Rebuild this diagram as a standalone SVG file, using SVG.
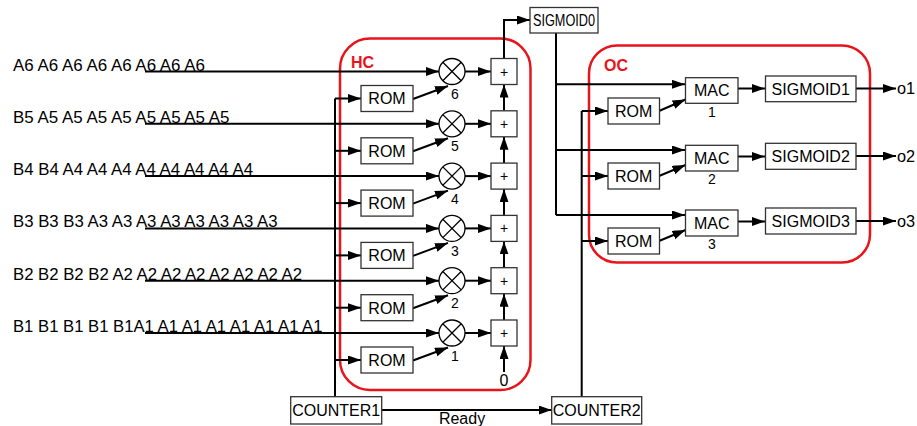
<svg xmlns="http://www.w3.org/2000/svg" width="917" height="426" viewBox="0 0 917 426">
<defs>
<style>
text{font-family:"Liberation Sans",Arial,sans-serif;fill:#000}
.in{font-size:16.3px}
.lbl{font-size:16px;text-anchor:middle}
.num{font-size:14px;text-anchor:middle}
.box{fill:#fff;stroke:#333;stroke-width:1.3}
.w{fill:none;stroke:#000;stroke-width:2}
.wa{fill:none;stroke:#000;stroke-width:2;marker-end:url(#a)}
.grp{fill:none;stroke:#e8141b;stroke-width:2.5}
.gl{font-size:16px;font-weight:bold;fill:#e8141b}
.mul{fill:#fff;stroke:#000;stroke-width:1.3}
.x{stroke:#000;stroke-width:1.3}
</style>
<marker id="a" markerUnits="userSpaceOnUse" markerWidth="14" markerHeight="10" refX="13" refY="4.5" orient="auto"><path d="M0,0 L13,4.5 L0,9 z" fill="#000"/></marker>
</defs>

<rect id="HC" class="grp" x="340" y="38.5" width="190.5" height="351.5" rx="30"/>
<text class="gl" x="351" y="68">HC</text>
<rect id="OC" class="grp" x="589" y="45.5" width="281" height="217" rx="28"/>
<text class="gl" x="604" y="71">OC</text>

<g id="inputs">
<text class="in" x="13" y="70.5" textLength="192" lengthAdjust="spacingAndGlyphs">A6 A6 A6 A6 A6 A6 A6 A6</text>
<text class="in" x="13" y="122.8" textLength="216.5" lengthAdjust="spacingAndGlyphs">B5 A5 A5 A5 A5 A5 A5 A5 A5</text>
<text class="in" x="13" y="175.1" textLength="240" lengthAdjust="spacingAndGlyphs">B4 B4 A4 A4 A4 A4 A4 A4 A4 A4</text>
<text class="in" x="13" y="227.4" textLength="264.5" lengthAdjust="spacingAndGlyphs">B3 B3 B3 A3 A3 A3 A3 A3 A3 A3 A3</text>
<text class="in" x="13" y="279.7" textLength="289" lengthAdjust="spacingAndGlyphs">B2 B2 B2 B2 A2 A2 A2 A2 A2 A2 A2 A2</text>
<text class="in" x="13" y="332" textLength="309.5" lengthAdjust="spacingAndGlyphs">B1 B1 B1 B1 B1A1 A1 A1 A1 A1 A1 A1 A1</text>
</g>

<g id="connectors">
<path class="wa" d="M145,71.5H439"/>
<path class="wa" d="M145,123.8H439"/>
<path class="wa" d="M145,176.1H439"/>
<path class="wa" d="M145,228.4H439"/>
<path class="wa" d="M145,280.7H439"/>
<path class="wa" d="M145,333H439"/>
<path class="w" d="M335,98.5V397"/>
<path class="wa" d="M335,98.5H361"/>
<path class="wa" d="M335,150.8H361"/>
<path class="wa" d="M335,203.1H361"/>
<path class="wa" d="M335,255.4H361"/>
<path class="wa" d="M335,307.7H361"/>
<path class="wa" d="M335,360H361"/>
<path class="wa" d="M413,99L448,86"/>
<path class="wa" d="M413,151.3L448,138.3"/>
<path class="wa" d="M413,203.6L448,190.6"/>
<path class="wa" d="M413,255.9L448,242.9"/>
<path class="wa" d="M413,308.2L448,295.2"/>
<path class="wa" d="M413,360.5L448,347.5"/>
<path class="wa" d="M465,71.5H491"/>
<path class="wa" d="M465,123.8H491"/>
<path class="wa" d="M465,176.1H491"/>
<path class="wa" d="M465,228.4H491"/>
<path class="wa" d="M465,280.7H491"/>
<path class="wa" d="M465,333H491"/>
<path class="wa" d="M504,110.8V84.5"/>
<path class="wa" d="M504,163.1V136.8"/>
<path class="wa" d="M504,215.4V189.1"/>
<path class="wa" d="M504,267.7V241.4"/>
<path class="wa" d="M504,320V293.7"/>
<path class="wa" d="M504,372V346"/>
<path class="wa" d="M504,58.5V20H530"/>
<path class="w" d="M556,33V215"/>
<path class="wa" d="M556,84.3H685"/>
<path class="wa" d="M556,150H685"/>
<path class="wa" d="M556,215H685"/>
<path class="w" d="M581.7,111V397"/>
<path class="wa" d="M581.7,111H608"/>
<path class="wa" d="M581.7,176H608"/>
<path class="wa" d="M581.7,241H608"/>
<path class="wa" d="M659,111L685.5,99.5"/>
<path class="wa" d="M659,176L685.5,165"/>
<path class="wa" d="M659,241L685.5,230"/>
<path class="wa" d="M738,88.5H765"/>
<path class="wa" d="M738,156.5H765"/>
<path class="wa" d="M738,221.5H765"/>
<path class="wa" d="M856,88.5H896"/>
<path class="wa" d="M856,156H896"/>
<path class="wa" d="M856,221H896"/>
<path class="wa" d="M381.7,410H551.7"/>
</g>

<g id="mul6"><circle class="mul" cx="452" cy="71.5" r="13"/><path class="x" d="M442.8,62.3L461.2,80.7M442.8,80.7L461.2,62.3"/><text class="num" x="455" y="99">6</text></g>
<g id="mul5"><circle class="mul" cx="452" cy="123.8" r="13"/><path class="x" d="M442.8,114.6L461.2,133M442.8,133L461.2,114.6"/><text class="num" x="455" y="151.3">5</text></g>
<g id="mul4"><circle class="mul" cx="452" cy="176.1" r="13"/><path class="x" d="M442.8,166.9L461.2,185.3M442.8,185.3L461.2,166.9"/><text class="num" x="455" y="203.6">4</text></g>
<g id="mul3"><circle class="mul" cx="452" cy="228.4" r="13"/><path class="x" d="M442.8,219.2L461.2,237.6M442.8,237.6L461.2,219.2"/><text class="num" x="455" y="255.9">3</text></g>
<g id="mul2"><circle class="mul" cx="452" cy="280.7" r="13"/><path class="x" d="M442.8,271.5L461.2,289.9M442.8,289.9L461.2,271.5"/><text class="num" x="455" y="308.2">2</text></g>
<g id="mul1"><circle class="mul" cx="452" cy="333" r="13"/><path class="x" d="M442.8,323.8L461.2,342.2M442.8,342.2L461.2,323.8"/><text class="num" x="455" y="360.5">1</text></g>

<g id="add6"><rect class="box" x="491" y="58.5" width="26" height="26"/><text class="num" x="504" y="76.5">+</text></g>
<g id="add5"><rect class="box" x="491" y="110.8" width="26" height="26"/><text class="num" x="504" y="128.8">+</text></g>
<g id="add4"><rect class="box" x="491" y="163.1" width="26" height="26"/><text class="num" x="504" y="181.1">+</text></g>
<g id="add3"><rect class="box" x="491" y="215.4" width="26" height="26"/><text class="num" x="504" y="233.4">+</text></g>
<g id="add2"><rect class="box" x="491" y="267.7" width="26" height="26"/><text class="num" x="504" y="285.7">+</text></g>
<g id="add1"><rect class="box" x="491" y="320" width="26" height="26"/><text class="num" x="504" y="338">+</text></g>
<g id="zero"><text class="lbl" x="504" y="386">0</text></g>

<g id="romh6"><rect class="box" x="361" y="85.5" width="52" height="26"/><text class="lbl" x="387" y="104.3">ROM</text></g>
<g id="romh5"><rect class="box" x="361" y="137.8" width="52" height="26"/><text class="lbl" x="387" y="156.6">ROM</text></g>
<g id="romh4"><rect class="box" x="361" y="190.1" width="52" height="26"/><text class="lbl" x="387" y="208.9">ROM</text></g>
<g id="romh3"><rect class="box" x="361" y="242.4" width="52" height="26"/><text class="lbl" x="387" y="261.2">ROM</text></g>
<g id="romh2"><rect class="box" x="361" y="294.7" width="52" height="26"/><text class="lbl" x="387" y="313.5">ROM</text></g>
<g id="romh1"><rect class="box" x="361" y="347" width="52" height="26"/><text class="lbl" x="387" y="365.8">ROM</text></g>

<g id="sigmoid0"><rect class="box" x="530" y="7.5" width="68" height="25.5"/><text class="lbl" x="564" y="26.2" font-size="15.5" textLength="62" lengthAdjust="spacingAndGlyphs">SIGMOID0</text></g>

<g id="romo1"><rect class="box" x="608" y="98" width="51.5" height="26"/><text class="lbl" x="633.7" y="116.8">ROM</text></g>
<g id="romo2"><rect class="box" x="608" y="163" width="51.5" height="26"/><text class="lbl" x="633.7" y="181.8">ROM</text></g>
<g id="romo3"><rect class="box" x="608" y="228" width="51.5" height="26"/><text class="lbl" x="633.7" y="246.8">ROM</text></g>

<g id="mac1"><rect class="box" x="685.5" y="77.7" width="52.5" height="25.6"/><text class="lbl" x="711.7" y="96.3">MAC</text><text class="num" x="712" y="117">1</text></g>
<g id="mac2"><rect class="box" x="685.5" y="145.3" width="52.5" height="25.7"/><text class="lbl" x="711.7" y="163.9">MAC</text><text class="num" x="712" y="184">2</text></g>
<g id="mac3"><rect class="box" x="685.5" y="210" width="52.5" height="26"/><text class="lbl" x="711.7" y="228.8">MAC</text><text class="num" x="712" y="249">3</text></g>

<g id="sigmoid1"><rect class="box" x="765.5" y="76" width="90.5" height="25.7"/><text class="lbl" x="810.7" y="94.6">SIGMOID1</text></g>
<g id="sigmoid2"><rect class="box" x="765.5" y="143.3" width="90.5" height="26"/><text class="lbl" x="810.7" y="162">SIGMOID2</text></g>
<g id="sigmoid3"><rect class="box" x="765.5" y="208" width="90.5" height="26"/><text class="lbl" x="810.7" y="226.7">SIGMOID3</text></g>

<g id="o1"><text class="in" x="897" y="94">o1</text></g>
<g id="o2"><text class="in" x="897" y="161.5">o2</text></g>
<g id="o3"><text class="in" x="897" y="226.5">o3</text></g>

<g id="counter1"><rect class="box" x="290.7" y="396.7" width="91" height="27.3"/><text class="lbl" x="336.2" y="416.2">COUNTER1</text></g>
<g id="counter2"><rect class="box" x="551.7" y="396.7" width="90" height="27.3"/><text class="lbl" x="596.7" y="416.2">COUNTER2</text></g>
<g id="ready"><text class="lbl" x="462" y="424">Ready</text></g>
</svg>
